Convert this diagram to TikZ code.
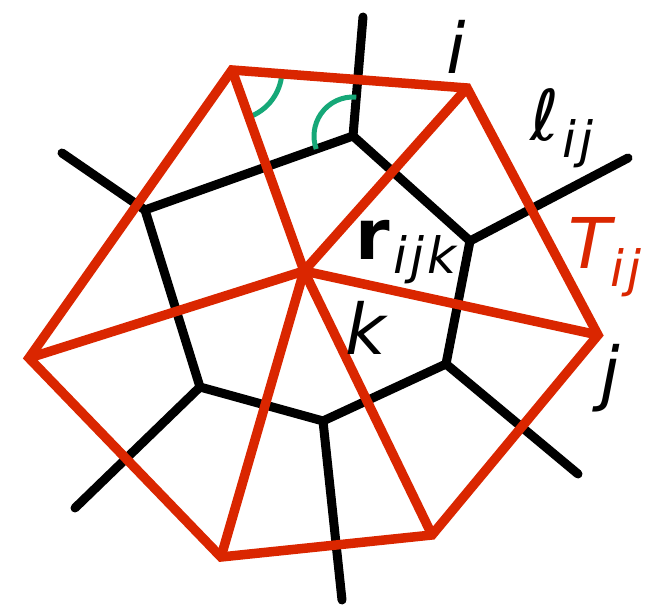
\documentclass[tikz,border=0pt]{standalone}
\usepackage{fontspec}
\setmainfont{DejaVu Sans}
\definecolor{tred}{RGB}{218,38,0}
\definecolor{tgreen}{RGB}{22,168,120}
\tikzset{
  redline/.style={draw=tred,line width=9.5pt,line join=miter},
  blackline/.style={draw=black,line width=9pt,line cap=round,line join=round},
  greenarc/.style={draw=tgreen,line width=5pt},
  lbl/.style={inner sep=0pt,font=\fontsize{70}{70}\selectfont\itshape},
}
\newcommand{\sbsz}{\fontsize{50}{50}\selectfont}
\newcommand{\sg}{\hspace{3pt}}
\begin{document}
\begin{tikzpicture}[x=1pt,y=1pt]
\useasboundingbox (0,0) rectangle (646,605);
% triangulation vertices
\coordinate (A) at (232,535);
\coordinate (I) at (467,517);
\coordinate (J) at (598,270);
\coordinate (B) at (432,70);
\coordinate (C) at (221,48);
\coordinate (L) at (29,247);
\coordinate (K) at (304,334);
% Voronoi vertices
\coordinate (v1) at (353,469);
\coordinate (v2) at (470,364);
\coordinate (v3) at (446,241);
\coordinate (v4) at (323,184);
\coordinate (v5) at (200,218);
\coordinate (v6) at (145,395);
% ray ends
\coordinate (r1) at (363,588);
\coordinate (r2) at (628,447);
\coordinate (r3) at (578,131);
\coordinate (r4) at (342,5);
\coordinate (r5) at (75,97);
\coordinate (r6) at (62,452);
% black Voronoi cell and rays
\draw[blackline] (v1) -- (v2) -- (v3) -- (v4) -- (v5) -- (v6) -- cycle;
\draw[blackline] (v1) -- (r1);
\draw[blackline] (v2) -- (r2);
\draw[blackline] (v3) -- (r3);
\draw[blackline] (v4) -- (r4);
\draw[blackline] (v5) -- (r5);
\draw[blackline] (v6) -- (r6);
% green angle arcs
\draw[greenarc] (A) ++(-4.4:50) arc[start angle=-4.4, end angle=-70.3, radius=50];
\draw[greenarc] (v1) ++(85.2:39) arc[start angle=85.2, end angle=199.6, radius=39];
% red triangulation
\draw[redline] (A) -- (I) -- (J) -- (B) -- (C) -- (L) -- cycle;
\foreach \p in {A,I,J,B,C,L} \draw[redline] (K) -- (\p);
% labels
\node[lbl] (ti) at (456,558) {i};
\node[lbl] (tl) at (562,477) {ℓ\sg\raisebox{-0.25em}{\sbsz i\sg j}};
\node[lbl] (tr) at (406,353) {\textbf{\upshape r}\sg\raisebox{-0.2em}{\sbsz i\sg j\sg k}};
\node[lbl,text=tred] (tT) at (605,348) {T\raisebox{-0.25em}{\sbsz i\sg j}};
\node[lbl] (tk) at (366,277) {k};
\node[lbl] (tj) at (610,227) {j};
\end{tikzpicture}
\end{document}
